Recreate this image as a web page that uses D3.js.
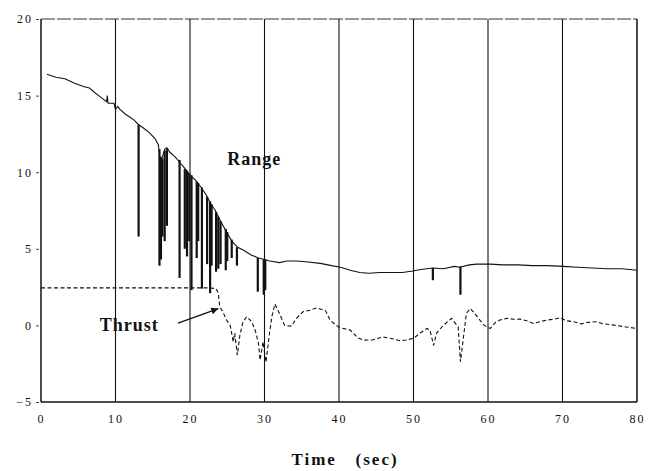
<!DOCTYPE html>
<html>
<head>
<meta charset="utf-8">
<script src="https://cdn.jsdelivr.net/npm/d3@7"></script>
<style>
  body { margin: 0; background: #fff; }
  svg { display: block; }
  .tick text { font-family: 'Liberation Serif', serif; font-size: 12px; letter-spacing: 2px; fill: #111; }
  .lbl { font-family: 'Liberation Serif', serif; font-weight: bold; fill: #111; }
</style>
</head>
<body>
<svg id="chart" width="657" height="471"></svg>
<script>
// x ticks (sec) and y ticks
const xTicks = [0, 10, 20, 30, 40, 50, 60, 70, 80];
const yTicks = [-5, 0, 5, 10, 15, 20];

// Range curve [time, value]
const rangeData = [
  [0.8, 16.4], [2, 16.2], [3.2, 16.1], [4.5, 15.8], [5.7, 15.6], [6.5, 15.5],
  [7.2, 15.2], [8, 14.9], [8.8, 14.6], [8.9, 15.0], [9.0, 14.5], [9.8, 14.5],
  [10, 14.1], [10.3, 14.3], [10.6, 14.1], [11.3, 13.8], [11.9, 13.6], [12.5, 13.4],
  [13.1, 13.1], [13.7, 12.9], [14.5, 12.6], [15.3, 12.2], [15.75, 11.8], [16.0, 10.8],
  [16.3, 11.0], [16.6, 11.5], [16.9, 11.6], [17.3, 11.3], [18, 11.0], [18.7, 10.6],
  [19.4, 10.2], [20, 9.8], [20.7, 9.5], [21.5, 9.0], [22.2, 8.5], [22.7, 8.0],
  [23.4, 7.5], [24, 6.9], [24.8, 6.2], [25.6, 5.5], [26.4, 5.1], [27.2, 4.9],
  [28.2, 4.6], [29.2, 4.4], [30, 4.3], [30.7, 4.2], [32, 4.1], [33, 4.2],
  [34.3, 4.2], [35.5, 4.15], [37.5, 4.05], [39, 3.9], [40.2, 3.8], [41.5, 3.6],
  [42.8, 3.45], [44, 3.4], [45.5, 3.45], [47, 3.45], [48.5, 3.45], [49.9, 3.55],
  [51, 3.65], [52.6, 3.75], [54, 3.7], [55.5, 3.85], [56.2, 3.8], [57.5, 3.95],
  [58.5, 4.0], [60.3, 4.0], [62, 3.95], [64, 3.95], [66, 3.9], [68, 3.9],
  [70.1, 3.85], [72, 3.8], [74, 3.75], [76, 3.7], [78, 3.7], [80, 3.6]
];

// dropouts on the range signal [time, top, bottom]
const rangeSpikes = [
  [13.1, 13.1, 5.8],
  [15.9, 11.5, 3.9], [16.1, 11.0, 4.3], [16.3, 10.9, 5.8], [16.6, 11.4, 5.5], [16.9, 11.5, 6.5],
  [18.6, 10.8, 3.1],
  [19.3, 10.2, 5.0], [19.6, 10.1, 4.5], [19.9, 9.9, 5.5], [20.2, 9.8, 2.3],
  [20.9, 9.4, 4.4], [21.1, 9.3, 5.5], [21.6, 9.0, 2.4],
  [22.3, 8.4, 4.0], [22.7, 8.1, 2.1], [22.9, 7.9, 3.9],
  [23.5, 7.4, 3.5], [23.8, 7.1, 3.7], [24.1, 6.8, 4.0],
  [24.8, 6.3, 3.6], [25.0, 6.1, 4.2], [25.6, 5.6, 4.4], [26.3, 5.1, 3.9],
  [29.1, 4.4, 2.2], [29.9, 4.3, 2.0], [30.1, 4.3, 2.3],
  [52.6, 3.75, 2.95], [56.3, 3.85, 2.0]
];

// Thrust curve [time, value]
const thrustData = [
  [0, 2.45], [10, 2.45], [20, 2.45], [22.5, 2.45], [23.5, 2.4], [23.8, 2.1],
  [24.0, 1.2], [24.4, 0.9], [24.9, 0.35], [25.4, 0.0], [25.8, -1.07], [26.0, -0.5],
  [26.35, -1.94], [26.7, -0.63], [27.1, 0.2], [27.6, 0.57], [28.3, 0.24], [28.8, -0.4],
  [29.2, -1.18], [29.4, -2.27], [29.8, -1.07], [30.2, -2.4], [30.7, -0.4], [31.0, 0.6],
  [31.4, 1.4], [32.1, 0.67], [32.7, 0.0], [33.6, -0.05], [34.3, 0.46], [35.2, 0.9],
  [36.2, 1.0], [37, 1.15], [38.2, 0.95], [38.8, 0.35], [39.5, 0.05], [40.1, -0.15],
  [40.6, -0.2], [41.5, -0.3], [42.5, -0.8], [43.3, -0.96], [44.5, -0.95], [45.9, -0.75],
  [47, -0.85], [48.2, -1.0], [49, -0.95], [50, -0.85], [50.9, -0.5], [51.8, -0.2],
  [52.2, -0.3], [52.7, -1.3], [53.1, -0.5], [54, 0.0], [55.1, 0.46], [56, -0.1],
  [56.3, -2.37], [57.1, 0.78], [57.6, 1.1], [58.2, 0.8], [58.7, 0.46], [59.5, 0.0],
  [60.3, -0.2], [61, 0.2], [61.6, 0.35], [62.5, 0.46], [63.5, 0.4], [64.3, 0.41],
  [65.2, 0.3], [66.1, 0.13], [67, 0.25], [67.9, 0.35], [68.8, 0.4], [69.7, 0.5],
  [70.5, 0.3], [71.5, 0.24], [72.5, 0.1], [73.5, 0.2], [74.6, 0.24], [75.5, 0.1],
  [76.9, 0.02], [78.5, -0.1], [80, -0.2]
];

// text labels and the arrow (data coords)
const labels = [
  { text: 'Range', t: 25.0, v: 10.5, size: 18 },
  { text: 'Thrust', t: 7.9, v: -0.35, size: 18 }
];
const arrow = { from: [18.4, 0.15], to: [23.8, 1.1] };

const width = 657;
const height = 471;
const margin = { top: 19, right: 20, bottom: 69, left: 41 };

const svg = d3.select('#chart');

const x = d3.scaleLinear().domain([0, 80]).range([margin.left, width - margin.right]);
const y = d3.scaleLinear().domain([-5, 20]).range([height - margin.bottom, margin.top]);

svg.append('defs').append('marker')
  .attr('id', 'head')
  .attr('viewBox', '0 0 10 10')
  .attr('refX', 10).attr('refY', 5)
  .attr('markerWidth', 11).attr('markerHeight', 7)
  .attr('markerUnits', 'userSpaceOnUse')
  .attr('orient', 'auto')
  .append('path').attr('d', 'M0,0 L10,5 L0,10 Z').attr('fill', '#111');

// vertical grid lines
svg.append('g')
  .selectAll('line')
  .data(xTicks)
  .join('line')
  .attr('x1', (d) => x(d)).attr('x2', (d) => x(d))
  .attr('y1', y(20)).attr('y2', y(-5))
  .attr('stroke', '#111')
  .attr('stroke-width', (d) => (d === 0 || d === 80 ? 1.5 : 1.1));

// top + bottom border
svg.append('line')
  .attr('x1', x(0)).attr('x2', x(80)).attr('y1', y(20)).attr('y2', y(20))
  .attr('stroke', '#333').attr('stroke-width', 1).attr('stroke-dasharray', '14,2');
svg.append('line')
  .attr('x1', x(0)).attr('x2', x(80)).attr('y1', y(-5)).attr('y2', y(-5))
  .attr('stroke', '#111').attr('stroke-width', 1.4);

// axes
svg.append('g')
  .attr('transform', `translate(0,${y(-5)})`)
  .call(d3.axisBottom(x).tickValues(xTicks).tickSize(0).tickPadding(12).tickFormat(d3.format('d')))
  .call((g) => g.select('.domain').remove());

svg.append('g')
  .attr('transform', `translate(${x(0) - 2},0)`)
  .call(d3.axisLeft(y).tickValues(yTicks).tickSize(3).tickPadding(3)
    .tickFormat((d) => (d < 0 ? '\u2212' + Math.abs(d) : d)))
  .call((g) => g.select('.domain').remove())
  .call((g) => g.selectAll('.tick line').attr('stroke', '#444'));

const line = d3.line().x((d) => x(d[0])).y((d) => y(d[1]));

// thrust (dashed)
svg.append('path')
  .datum(thrustData)
  .attr('d', line)
  .attr('fill', 'none')
  .attr('stroke', '#111')
  .attr('stroke-width', 1.1)
  .attr('stroke-dasharray', '4,2.5');

// range (solid)
svg.append('path')
  .datum(rangeData)
  .attr('d', line)
  .attr('fill', 'none')
  .attr('stroke', '#111')
  .attr('stroke-width', 1.1);

svg.append('g')
  .selectAll('line')
  .data(rangeSpikes)
  .join('line')
  .attr('x1', (d) => x(d[0])).attr('x2', (d) => x(d[0]))
  .attr('y1', (d) => y(d[1])).attr('y2', (d) => y(d[2]))
  .attr('stroke', '#111')
  .attr('stroke-width', 2.2);

// labels
svg.append('g')
  .selectAll('text')
  .data(labels)
  .join('text')
  .attr('class', 'lbl')
  .attr('x', (d) => x(d.t))
  .attr('y', (d) => y(d.v))
  .attr('font-size', (d) => d.size)
  .attr('letter-spacing', 1)
  .text((d) => d.text);

svg.append('line')
  .attr('x1', x(arrow.from[0])).attr('y1', y(arrow.from[1]))
  .attr('x2', x(arrow.to[0])).attr('y2', y(arrow.to[1]))
  .attr('stroke', '#111').attr('stroke-width', 1.3)
  .attr('marker-end', 'url(#head)');

// x axis title
svg.append('text')
  .attr('class', 'lbl')
  .attr('x', 345)
  .attr('y', 465)
  .attr('text-anchor', 'middle')
  .attr('font-size', 17)
  .attr('letter-spacing', 2)
  .attr('xml:space', 'preserve')
  .text('Time   (sec)');
</script>
</body>
</html>
